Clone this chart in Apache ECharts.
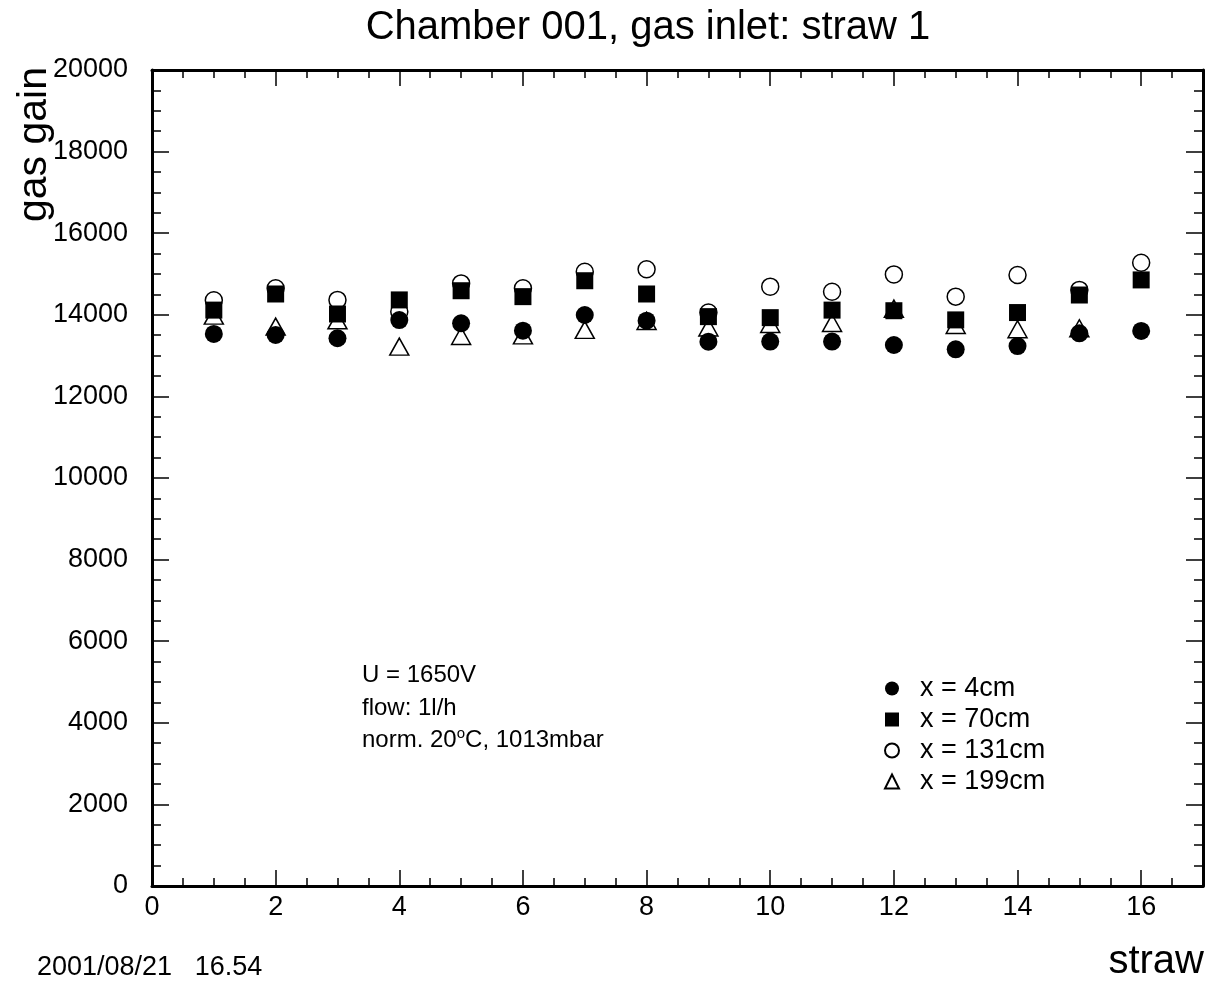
<!DOCTYPE html>
<html>
<head>
<meta charset="utf-8">
<title>Chamber 001, gas inlet: straw 1</title>
<script src="https://cdn.jsdelivr.net/npm/echarts@6/dist/echarts.min.js"></script>
<style>
  html, body { margin: 0; padding: 0; background: #fff; }
  #chart { width: 1211px; height: 981px; }
</style>
</head>
<body>
<div id="chart"></div>
<script>
// Straw numbers and measured gas gain at four positions along the straw
const straws = [1, 2, 3, 4, 5, 6, 7, 8, 9, 10, 11, 12, 13, 14, 15, 16];
const gainX4 = [13530, 13505, 13425, 13870, 13790, 13610, 13995, 13855, 13340, 13345, 13345, 13260, 13155, 13235, 13545, 13605];
const gainX70 = [14115, 14510, 14020, 14365, 14590, 14445, 14835, 14510, 13955, 13930, 14115, 14100, 13875, 14055, 14485, 14855];
const gainX131 = [14355, 14650, 14365, 14075, 14770, 14650, 15055, 15115, 14055, 14690, 14565, 14990, 14445, 14975, 14610, 15275];
// no x = 199cm value for straw 16
const gainX199 = [13980, 13710, 13865, 13220, 13480, 13495, 13630, 13850, 13690, 13775, 13800, 14150, 13750, 13645, 13670];

const seriesNames = ['x = 4cm', 'x = 70cm', 'x = 131cm', 'x = 199cm'];
const infoLines = ['U = 1650V', 'flow: 1l/h'];
const stampText = '2001/08/21   16.54';

const FONT = '"Liberation Sans", Arial, Helvetica, sans-serif';
const pairs = (ys) => ys.map((v, i) => [straws[i], v]);

const chart = echarts.init(document.getElementById('chart'), null, { renderer: 'canvas' });

const frameLine = { show: true, onZero: false, lineStyle: { color: '#000', width: 3 } };
const tickStyle = { color: '#000', width: 1.5 };

function xAxisDef(position, interval, tickLen, showLabel, showLine) {
  return {
    type: 'value', position: position, min: 0, max: 17, interval: interval,
    axisLine: showLine ? frameLine : { show: false, onZero: false },
    axisTick: { show: true, inside: true, length: tickLen, lineStyle: tickStyle },
    axisLabel: showLabel
      ? { show: true, color: '#000', fontSize: 27, fontFamily: FONT, margin: 8, showMaxLabel: false }
      : { show: false },
    splitLine: { show: false }
  };
}

function yAxisDef(position, showLabel) {
  return {
    type: 'value', position: position, min: 0, max: 20000, interval: 2000,
    axisLine: frameLine,
    axisTick: { show: true, inside: true, length: 17, lineStyle: tickStyle },
    minorTick: { show: true, splitNumber: 4, length: 9, lineStyle: tickStyle },
    axisLabel: showLabel
      ? { show: true, color: '#000', fontSize: 27, fontFamily: FONT, margin: 24, formatter: (v) => String(v) }
      : { show: false },
    splitLine: { show: false },
    minorSplitLine: { show: false }
  };
}

const solid = { color: '#000', opacity: 1 };
const hollow = { color: 'transparent', borderColor: '#000', borderWidth: 1.5, opacity: 1 };

const option = {
  animation: false,
  backgroundColor: '#fff',
  textStyle: { fontFamily: FONT, color: '#000' },
  grid: { left: 152, right: 8, top: 70, bottom: 95, containLabel: false },
  xAxis: [
    xAxisDef('bottom', 2, 16, true, true),
    xAxisDef('bottom', 0.5, 8, false, false),
    xAxisDef('top', 2, 16, false, true),
    xAxisDef('top', 0.5, 8, false, false)
  ],
  yAxis: [
    yAxisDef('left', true),
    yAxisDef('right', false)
  ],
  legend: {
    orient: 'vertical',
    left: 879,
    top: 670,
    itemWidth: 14,
    itemHeight: 14,
    itemGap: 4,
    selectedMode: false,
    textStyle: { fontSize: 27, color: '#000', fontFamily: FONT, padding: [0, 0, 0, 16] },
    data: seriesNames
  },
  series: [
    {
      name: seriesNames[0], type: 'scatter', symbol: 'circle', symbolSize: 18,
      itemStyle: solid, emphasis: { disabled: true },
      data: pairs(gainX4)
    },
    {
      name: seriesNames[1], type: 'scatter', symbol: 'rect', symbolSize: 17,
      itemStyle: solid, emphasis: { disabled: true },
      data: pairs(gainX70)
    },
    {
      name: seriesNames[2], type: 'scatter', symbol: 'circle', symbolSize: 17,
      itemStyle: hollow, emphasis: { disabled: true },
      data: pairs(gainX131)
    },
    {
      name: seriesNames[3], type: 'scatter', symbol: 'triangle', symbolSize: [19, 17],
      itemStyle: hollow, emphasis: { disabled: true },
      data: pairs(gainX199)
    }
  ],
  graphic: [
    {
      type: 'text', x: 648, y: 28, silent: true,
      style: { text: 'Chamber 001, gas inlet: straw 1', fontSize: 40, fontFamily: FONT, fill: '#000', align: 'center', verticalAlign: 'middle' }
    },
    {
      type: 'text', x: 35, y: 67, rotation: Math.PI / 2, silent: true,
      style: { text: 'gas gain', fontSize: 41, fontFamily: FONT, fill: '#000', align: 'right', verticalAlign: 'middle' }
    },
    {
      type: 'text', x: 1204, y: 962, silent: true,
      style: { text: 'straw', fontSize: 40, fontFamily: FONT, fill: '#000', align: 'right', verticalAlign: 'middle' }
    },
    {
      type: 'text', x: 362, y: 675, silent: true,
      style: { text: infoLines[0], fontSize: 24, fontFamily: FONT, fill: '#000', align: 'left', verticalAlign: 'middle' }
    },
    {
      type: 'text', x: 362, y: 708, silent: true,
      style: { text: infoLines[1], fontSize: 24, fontFamily: FONT, fill: '#000', align: 'left', verticalAlign: 'middle' }
    },
    {
      type: 'text', x: 362, y: 740, silent: true,
      style: {
        text: '{n|norm. 20}{s|o}{n|C, 1013mbar}',
        fontFamily: FONT, fill: '#000', align: 'left', verticalAlign: 'middle',
        rich: {
          n: { fontSize: 24, fontFamily: FONT, fill: '#000', lineHeight: 28 },
          s: { fontSize: 15, fontFamily: FONT, fill: '#000', verticalAlign: 'top', lineHeight: 15 }
        }
      }
    },
    {
      type: 'text', x: 37, y: 968, silent: true,
      style: { text: stampText, fontSize: 27, fontFamily: FONT, fill: '#000', align: 'left', verticalAlign: 'middle' }
    }
  ]
};

chart.setOption(option);
</script>
</body>
</html>
